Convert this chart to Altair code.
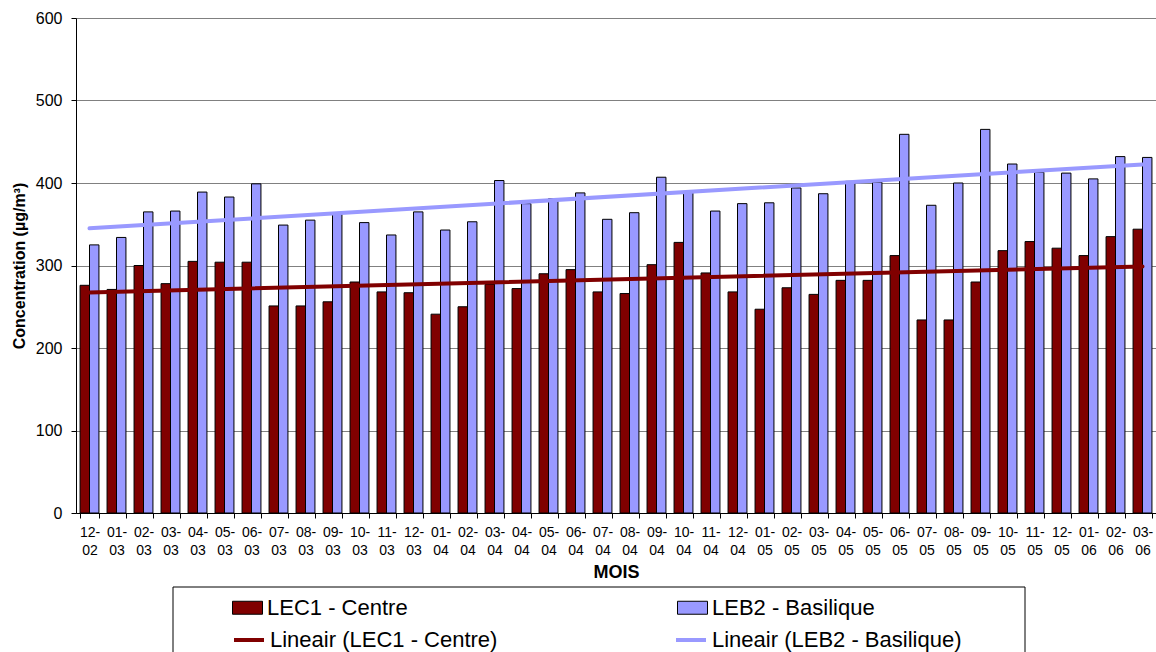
import altair as alt
import pandas as pd

# Monthly concentrations (µg/m³), December 2002 to March 2006
months = [
    "12-02", "01-03", "02-03", "03-03", "04-03", "05-03", "06-03", "07-03",
    "08-03", "09-03", "10-03", "11-03", "12-03", "01-04", "02-04", "03-04",
    "04-04", "05-04", "06-04", "07-04", "08-04", "09-04", "10-04", "11-04",
    "12-04", "01-05", "02-05", "03-05", "04-05", "05-05", "06-05", "07-05",
    "08-05", "09-05", "10-05", "11-05", "12-05", "01-06", "02-06", "03-06",
]
lec1_centre = [
    276, 271, 300, 278, 305, 304, 304, 251, 251, 256, 280, 268, 267, 241,
    250, 277, 272, 290, 295, 268, 266, 301, 328, 291, 268, 247, 273, 265,
    282, 282, 312, 234, 234, 280, 318, 329, 321, 312, 335, 344,
]
leb2_basilique = [
    325, 334, 365, 366, 389, 383, 399, 349, 355, 362, 352, 337, 365, 343,
    353, 403, 375, 381, 388, 356, 364, 407, 389, 366, 375, 376, 394, 387,
    402, 401, 459, 373, 400, 465, 423, 413, 412, 405, 432, 431,
]
series_names = ["LEC1 - Centre", "LEB2 - Basilique"]
trend_names = ["Lineair (LEC1 - Centre)", "Lineair (LEB2 - Basilique)"]
colors = ["#800000", "#9999FF"]

rows = []
for name, vals in zip(series_names, [lec1_centre, leb2_basilique]):
    for i, (m, v) in enumerate(zip(months, vals)):
        rows.append({"month": m, "i": i, "series": name, "value": v})
df = pd.DataFrame(rows)

FONT = "Liberation Sans"
W, H = 1080, 495
n = len(months)

y_scale = alt.Scale(domain=[0, 600], nice=False)

bars = alt.Chart(df).mark_bar(stroke="black", strokeWidth=1).encode(
    x=alt.X(
        "month:N",
        sort=months,
        scale=alt.Scale(paddingInner=0.3, paddingOuter=0.15),
        axis=alt.Axis(
            title="MOIS",
            titleFont=FONT, titleFontSize=18, titleFontWeight="bold",
            titleColor="black", titleY=59, titleBaseline="middle",
            labelFont=FONT, labelFontSize=14, labelColor="black",
            labelAngle=0, labelPadding=7, labelLineHeight=18,
            labelExpr="[slice(datum.label, 0, 3), slice(datum.label, 3)]",
            tickBand="extent", tickSize=5, tickColor="black",
            domainColor="black", grid=False,
        ),
    ),
    xOffset=alt.XOffset("series:N", sort=series_names,
                        scale=alt.Scale(paddingInner=0, paddingOuter=0)),
    y=alt.Y(
        "value:Q",
        scale=y_scale,
        axis=alt.Axis(
            title="Concentration (µg/m³)",
            titleFont=FONT, titleFontSize=16, titleFontWeight="bold",
            titleColor="black", titleX=-57, titleY=H / 2,
            titleAlign="center", titleBaseline="middle", titleAngle=270,
            values=[0, 100, 200, 300, 400, 500, 600],
            labelFont=FONT, labelFontSize=16, labelColor="black",
            labelPadding=9, tickSize=5, tickColor="black",
            domainColor="black", gridColor="#808080", gridWidth=1,
        ),
    ),
    color=alt.Color(
        "series:N",
        scale=alt.Scale(domain=series_names, range=colors),
        legend=alt.Legend(
            orient="none", legendX=156, legendY=574,
            direction="horizontal", columns=2, columnPadding=267,
            title=None, padding=0,
            symbolType="M-1,-0.433H1V0.433H-1Z", symbolSize=900,
            symbolStrokeColor="black", symbolStrokeWidth=1,
            symbolOpacity=1,
            labelFont=FONT, labelFontSize=22, labelColor="black",
            labelOffset=4, labelLimit=500,
        ),
    ),
)

trend = alt.Chart(df).transform_regression(
    "i", "value", groupby=["series"], method="linear"
).transform_calculate(
    trend="'Lineair (' + datum.series + ')'"
).mark_line(strokeWidth=4, strokeCap="round").encode(
    x=alt.X("i:Q", scale=alt.Scale(domain=[-0.5, n - 0.5], nice=False, zero=False),
            axis=None),
    y=alt.Y("value:Q", scale=y_scale),
    stroke=alt.Stroke(
        "trend:N",
        scale=alt.Scale(domain=trend_names, range=colors),
        legend=alt.Legend(
            orient="none", legendX=156, legendY=605,
            direction="horizontal", columns=2, columnPadding=170,
            title=None, padding=0,
            symbolType="stroke", symbolSize=900, symbolStrokeWidth=4,
            labelFont=FONT, labelFontSize=22, labelColor="black",
            labelOffset=4, labelLimit=500,
        ),
    ),
)

# Frame around the legend (lower edge falls below the visible area)
frame = alt.Chart(pd.DataFrame({"k": [0]})).mark_rect(
    fill=None, stroke="black", strokeWidth=1
).encode(
    x=alt.value(97), x2=alt.value(949), y=alt.value(569), y2=alt.value(700)
)

chart = alt.layer(bars, trend, frame).resolve_scale(
    x="independent"
).properties(
    width=W, height=H,
    autosize=alt.AutoSizeParams(type="none"),
    padding={"left": 76, "top": 18, "right": 0, "bottom": 139},
).configure_view(stroke=None).configure(background="white")

chart.save("out.html", embed_options={"renderer": "svg", "actions": False})
